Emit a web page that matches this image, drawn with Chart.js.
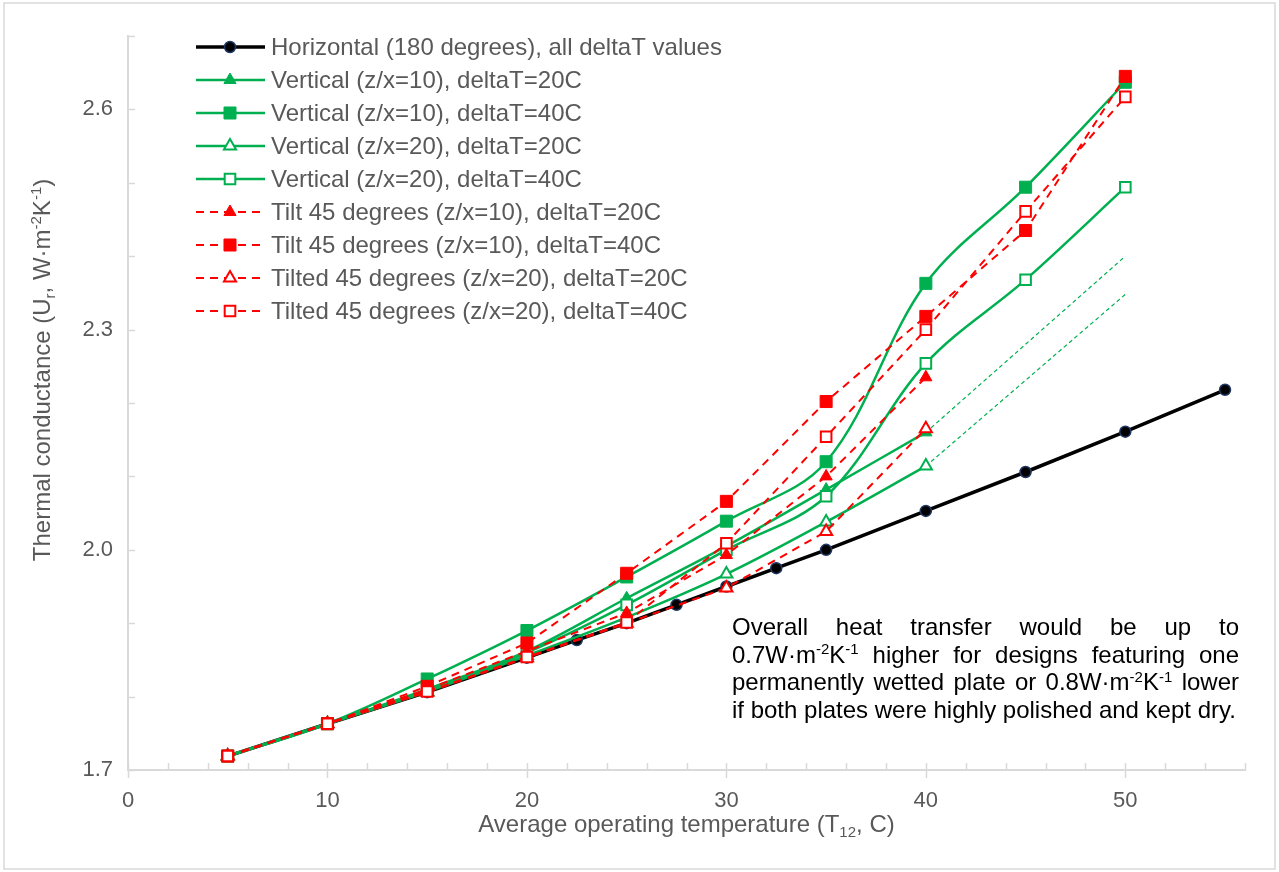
<!DOCTYPE html>
<html>
<head>
<meta charset="utf-8">
<script src="https://cdn.jsdelivr.net/npm/chart.js@4.4.1/dist/chart.umd.min.js"></script>
<style>
  html, body { margin: 0; padding: 0; background: #fff; }
  #wrap { width: 1279px; height: 872px; position: relative; }
</style>
</head>
<body>
<div id="wrap"><canvas id="chart" width="1279" height="872"></canvas></div>
<script>
// temperatures (x) of the measured series
const temps = [5, 10, 15, 20, 25, 30, 35, 40, 45, 50];
const horizTemps = [5, 10, 15, 20, 22.5, 25, 27.5, 30, 32.5, 35, 40, 45, 50, 55];
const extTemps = [40, 50];

// thermal conductance values
const horizontal = [1.719, 1.763, 1.806, 1.853, 1.877, 1.900, 1.925, 1.950, 1.975, 2.000, 2.053, 2.106, 2.161, 2.218];
const vert10dT20 = [1.719, 1.763, 1.810, 1.862, 1.934, 2.005, 2.082, 2.160];
const vert10dT40 = [1.719, 1.763, 1.824, 1.890, 1.963, 2.039, 2.120, 2.363, 2.494, 2.637];
const vert20dT20 = [1.719, 1.763, 1.807, 1.856, 1.908, 1.967, 2.038, 2.114];
const vert20dT40 = [1.719, 1.763, 1.808, 1.860, 1.925, 2.000, 2.073, 2.254, 2.368, 2.494];
const tilt10dT20 = [1.719, 1.763, 1.810, 1.862, 1.914, 1.993, 2.100, 2.235];
const tilt10dT40 = [1.719, 1.763, 1.814, 1.873, 1.968, 2.066, 2.202, 2.318, 2.435, 2.645];
const tilt20dT20 = [1.719, 1.763, 1.806, 1.853, 1.900, 1.948, 2.025, 2.165];
const tilt20dT40 = [1.719, 1.763, 1.807, 1.854, 1.901, 2.009, 2.154, 2.300, 2.461, 2.617];
// dotted extrapolations of the vertical deltaT=20C series
const extVert10dT20 = [2.160, 2.400];
const extVert20dT20 = [2.114, 2.348];

const xLabels = [0, 10, 20, 30, 40, 50];
const yLabels = ['1.7', '2.0', '2.3', '2.6'];

const GREEN = '#00b050';
const RED = '#ff0000';
const GREY = '#595959';
const AXIS = '#d9d9d9';
const FONT = '"Liberation Sans", Arial, sans-serif';

const pts = (xs, ys) => ys.map((y, i) => ({ x: xs[i], y: y }));

function series(label, xs, ys, o) {
  return {
    label: label,
    data: pts(xs, ys),
    borderColor: o.color,
    borderWidth: o.width,
    borderDash: o.dash || [],
    tension: o.tension || 0,
    pointStyle: o.style,
    pointRadius: o.r,
    pointHoverRadius: o.r,
    pointBackgroundColor: o.fill,
    pointBorderColor: o.edge || o.color,
    pointBorderWidth: o.bw || 1,
    order: o.order,
    showLine: true,
    inLegend: o.inLegend !== false
  };
}

const datasets = [
  series('Horizontal (180 degrees), all deltaT values', horizTemps, horizontal,
    { color: '#000', width: 3.5, style: 'circle', r: 5.5, fill: '#000', edge: '#1f3864', bw: 1.5, order: 9 }),
  series('Vertical (z/x=10), deltaT=20C', temps, vert10dT20,
    { color: GREEN, width: 2.5, tension: 0.35, style: 'triangle', r: 7, fill: GREEN, order: 8 }),
  series('Vertical (z/x=10), deltaT=40C', temps, vert10dT40,
    { color: GREEN, width: 2.5, tension: 0.35, style: 'rect', r: 8.5, fill: GREEN, order: 7 }),
  series('Vertical (z/x=20), deltaT=20C', temps, vert20dT20,
    { color: GREEN, width: 2.5, tension: 0.35, style: 'triangle', r: 7, fill: '#fff', bw: 2, order: 6 }),
  series('Vertical (z/x=20), deltaT=40C', temps, vert20dT40,
    { color: GREEN, width: 2.5, tension: 0.35, style: 'rect', r: 7.5, fill: '#fff', bw: 2, order: 5 }),
  series('Tilt 45 degrees (z/x=10), deltaT=20C', temps, tilt10dT20,
    { color: RED, width: 2, dash: [8, 6], style: 'triangle', r: 7, fill: RED, order: 4 }),
  series('Tilt 45 degrees (z/x=10), deltaT=40C', temps, tilt10dT40,
    { color: RED, width: 2, dash: [8, 6], style: 'rect', r: 8.5, fill: RED, order: 3 }),
  series('Tilted 45 degrees (z/x=20), deltaT=20C', temps, tilt20dT20,
    { color: RED, width: 2, dash: [8, 6], style: 'triangle', r: 7, fill: '#fff', bw: 2, order: 2 }),
  series('Tilted 45 degrees (z/x=20), deltaT=40C', temps, tilt20dT40,
    { color: RED, width: 2, dash: [8, 6], style: 'rect', r: 7.5, fill: '#fff', bw: 2, order: 1 }),
  series('ext1', extTemps, extVert10dT20,
    { color: GREEN, width: 1.2, dash: [4, 3], style: 'circle', r: 0, fill: GREEN, order: 20, inLegend: false }),
  series('ext2', extTemps, extVert20dT20,
    { color: GREEN, width: 1.2, dash: [4, 3], style: 'circle', r: 0, fill: GREEN, order: 20, inLegend: false })
];

function drawMarker(ctx, style, x, y, r, fill, stroke, bw) {
  ctx.save();
  ctx.setLineDash([]);
  ctx.beginPath();
  if (style === 'circle') {
    ctx.arc(x, y, r, 0, Math.PI * 2);
  } else if (style === 'rect') {
    const h = r * Math.SQRT1_2;
    ctx.rect(x - h, y - h, h * 2, h * 2);
  } else {
    ctx.moveTo(x, y - r);
    ctx.lineTo(x + 0.866 * r, y + 0.5 * r);
    ctx.lineTo(x - 0.866 * r, y + 0.5 * r);
    ctx.closePath();
  }
  ctx.fillStyle = fill;
  ctx.fill();
  ctx.lineWidth = bw;
  ctx.strokeStyle = stroke;
  ctx.stroke();
  ctx.restore();
}

// rich text: segments with optional sup / sub
function segFont(s, size) {
  return ((s.sup || s.sub) ? Math.round(size * 0.62) : size) + 'px ' + FONT;
}
function richWidth(ctx, segs, size) {
  let w = 0;
  segs.forEach(s => { ctx.font = segFont(s, size); w += ctx.measureText(s.t).width; });
  return w;
}
function drawRich(ctx, segs, x, y, size) {
  segs.forEach(s => {
    ctx.font = segFont(s, size);
    const dy = s.sup ? -size * 0.36 : (s.sub ? size * 0.2 : 0);
    ctx.fillText(s.t, x, y + dy);
    x += ctx.measureText(s.t).width;
  });
  return x;
}

const note = [
  [[{ t: 'Overall' }], [{ t: 'heat' }], [{ t: 'transfer' }], [{ t: 'would' }], [{ t: 'be' }], [{ t: 'up' }], [{ t: 'to' }]],
  [[{ t: '0.7W·m' }, { t: '-2', sup: true }, { t: 'K' }, { t: '-1', sup: true }], [{ t: 'higher' }], [{ t: 'for' }],
   [{ t: 'designs' }], [{ t: 'featuring' }], [{ t: 'one' }]],
  [[{ t: 'permanently' }], [{ t: 'wetted' }], [{ t: 'plate' }], [{ t: 'or' }],
   [{ t: '0.8W·m' }, { t: '-2', sup: true }, { t: 'K' }, { t: '-1', sup: true }], [{ t: 'lower' }]],
  [[{ t: 'if both plates were highly polished and kept dry.' }]]
];

const decor = {
  id: 'decor',
  beforeDraw(chart) {
    const ctx = chart.ctx;
    ctx.save();
    ctx.fillStyle = '#fff';
    ctx.fillRect(0, 0, chart.width, chart.height);
    ctx.strokeStyle = AXIS;
    ctx.lineWidth = 1.5;
    ctx.strokeRect(4, 3, chart.width - 8, chart.height - 6);
    ctx.restore();
  },
  beforeDatasetsDraw(chart) {
    const ctx = chart.ctx;
    const xs = chart.scales.x, ys = chart.scales.y;
    ctx.save();
    ctx.strokeStyle = AXIS;
    ctx.lineWidth = 1.5;
    ctx.beginPath();
    for (let v = 0; v <= 56; v += 2) {
      const px = Math.round(xs.getPixelForValue(v)) + 0.5;
      ctx.moveTo(px, ys.bottom - 7);
      ctx.lineTo(px, ys.bottom + (v % 10 === 0 ? 8 : 0));
    }
    for (let i = 0; i <= 10; i++) {
      const py = Math.round(ys.getPixelForValue(1.7 + i * 0.1)) + 0.5;
      ctx.moveTo(xs.left, py);
      ctx.lineTo(xs.left + 7, py);
    }
    ctx.stroke();
    ctx.restore();
  },
  afterDraw(chart) {
    const ctx = chart.ctx;
    const area = chart.chartArea;
    ctx.save();
    ctx.textBaseline = 'alphabetic';

    // axis titles
    ctx.fillStyle = GREY;
    const xt = [{ t: 'Average operating temperature (T' }, { t: '12', sub: true }, { t: ', C)' }];
    const xw = richWidth(ctx, xt, 24);
    drawRich(ctx, xt, (area.left + area.right) / 2 - xw / 2, 832, 24);

    const yt = [{ t: 'Thermal conductance (U' }, { t: 'r', sub: true }, { t: ', W·m' }, { t: '-2', sup: true },
      { t: 'K' }, { t: '-1', sup: true }, { t: ')' }];
    const yw = richWidth(ctx, yt, 24);
    ctx.save();
    ctx.translate(50, 370);
    ctx.rotate(-Math.PI / 2);
    drawRich(ctx, yt, -yw / 2, 0, 24);
    ctx.restore();

    // legend
    let row = 0;
    chart.data.datasets.forEach(ds => {
      if (!ds.inLegend) return;
      const y = 47 + row * 33;
      ctx.save();
      ctx.strokeStyle = ds.borderColor;
      ctx.lineWidth = ds.borderWidth;
      ctx.setLineDash(ds.borderDash);
      ctx.beginPath();
      ctx.moveTo(196, y);
      ctx.lineTo(265, y);
      ctx.stroke();
      ctx.restore();
      drawMarker(ctx, ds.pointStyle, 230, y, ds.pointRadius, ds.pointBackgroundColor, ds.pointBorderColor, ds.pointBorderWidth);
      ctx.fillStyle = GREY;
      ctx.font = '24px ' + FONT;
      ctx.textBaseline = 'middle';
      ctx.fillText(ds.label, 271, y + 1);
      ctx.textBaseline = 'alphabetic';
      row++;
    });

    // justified note
    ctx.fillStyle = '#000';
    const left = 732, right = 1239, size = 24;
    note.forEach((words, li) => {
      const base = 635 + li * 27.7;
      const widths = words.map(w => richWidth(ctx, w, size));
      const total = widths.reduce((a, b) => a + b, 0);
      const gap = words.length > 1 ? (right - left - total) / (words.length - 1) : 0;
      let x = left;
      words.forEach((w, i) => {
        drawRich(ctx, w, x, base, size);
        x += widths[i] + gap;
      });
    });
    ctx.restore();
  }
};

new Chart(document.getElementById('chart'), {
  type: 'line',
  data: { datasets: datasets },
  options: {
    responsive: false,
    animation: false,
    devicePixelRatio: 1,
    layout: { padding: { left: 0, right: 34, top: 36, bottom: 0 } },
    plugins: {
      legend: { display: false },
      tooltip: { enabled: false }
    },
    scales: {
      x: {
        type: 'linear',
        min: 0,
        max: 56,
        afterFit: s => { s.height = 102; },
        border: { color: AXIS, width: 2 },
        grid: { display: true, drawOnChartArea: false, drawTicks: false, color: 'rgba(0,0,0,0)' },
        ticks: {
          stepSize: 2,
          autoSkip: false,
          maxRotation: 0,
          padding: 18,
          color: GREY,
          font: { family: FONT, size: 22 },
          callback: v => (xLabels.includes(v) ? String(v) : '')
        }
      },
      y: {
        type: 'linear',
        min: 1.7,
        max: 2.7,
        afterFit: s => { s.width = 128; },
        border: { color: AXIS, width: 2 },
        grid: { display: true, drawOnChartArea: false, drawTicks: false, color: 'rgba(0,0,0,0)' },
        ticks: {
          stepSize: 0.1,
          autoSkip: false,
          padding: 15,
          color: GREY,
          font: { family: FONT, size: 22 },
          callback: v => {
            const s = v.toFixed(1);
            return yLabels.includes(s) ? s : '';
          }
        }
      }
    }
  },
  plugins: [decor]
});
</script>
</body>
</html>
